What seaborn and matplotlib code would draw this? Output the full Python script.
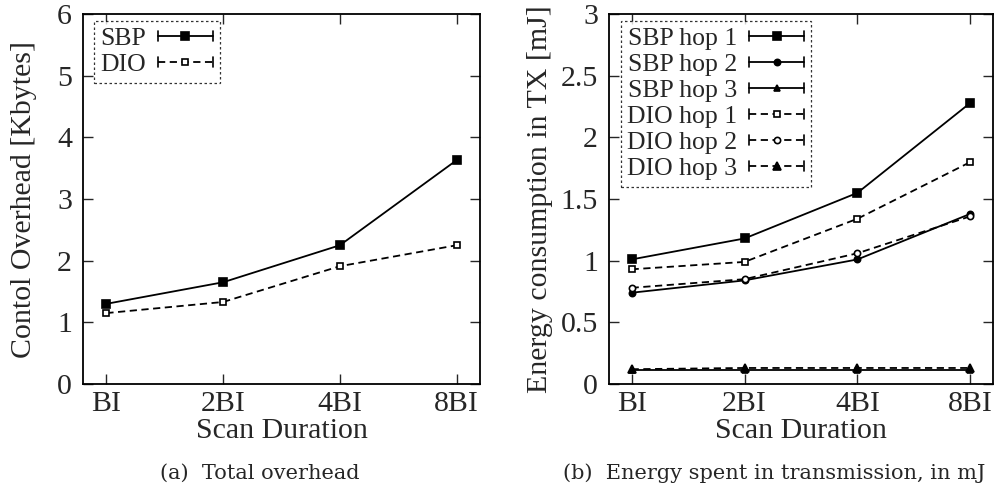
import numpy as np
import pandas as pd
import matplotlib
matplotlib.use("Agg")
import matplotlib.pyplot as plt
import seaborn as sns
from matplotlib.legend_handler import HandlerLine2D
from matplotlib.lines import Line2D

# data
durations = ["BI", "2BI", "4BI", "8BI"]

overhead_sbp = [1.30, 1.65, 2.25, 3.63]
overhead_dio = [1.15, 1.33, 1.91, 2.25]

energy_sbp_hop1 = [1.01, 1.18, 1.55, 2.28]
energy_sbp_hop2 = [0.74, 0.84, 1.01, 1.38]
energy_sbp_hop3 = [0.11, 0.11, 0.11, 0.11]
energy_dio_hop1 = [0.93, 0.99, 1.34, 1.80]
energy_dio_hop2 = [0.78, 0.85, 1.06, 1.36]
energy_dio_hop3 = [0.12, 0.13, 0.13, 0.13]

sns.set_style("ticks")
plt.rcParams['font.family'] = ['Liberation Serif', 'DejaVu Serif']

FS = 21.5
LEG_FS = 18.5


# gnuplot-like legend sample: line with small caps at both ends
class CapHandler(HandlerLine2D):
    def create_artists(self, legend, orig_handle, xdescent, ydescent,
                       width, height, fontsize, trans):
        artists = super().create_artists(legend, orig_handle, xdescent, ydescent,
                                         width, height, fontsize, trans)
        ymid = height / 2 - ydescent
        cap = height * 0.28
        for x in (-xdescent, width - xdescent):
            artists.append(Line2D([x, x], [ymid - cap, ymid + cap],
                                  color='black', lw=1.2, transform=trans))
        return artists


def draw_series(ax, values, label, marker, ms, filled, dashed):
    x = np.arange(len(durations))
    sns.lineplot(x=x, y=values, ax=ax, color='black', label=label,
                 marker=marker, markersize=ms, lw=1.3,
                 markerfacecolor='black' if filled else 'white',
                 markeredgecolor='black', markeredgewidth=1.2,
                 linestyle=(0, (4, 2.5)) if dashed else '-')


def style_axes(ax, ylim, yticks, ylabel, label_x):
    ax.set_xlim(-0.2, 3.2)
    ax.set_ylim(*ylim)
    ax.set_xticks(range(len(durations)))
    ax.set_xticklabels(durations)
    ax.set_yticks(yticks)
    ax.set_yticklabels([f"{t:g}" for t in yticks])
    ax.tick_params(direction='in', length=7, width=1, labelsize=FS,
                   top=True, right=True)
    ax.tick_params(axis='y', pad=8)
    ax.tick_params(axis='x', pad=5)
    for sp in ax.spines.values():
        sp.set_linewidth(1.3)
        sp.set_color('black')
    ax.set_xlabel("Scan Duration", fontsize=FS, labelpad=1)
    ax.set_ylabel(ylabel, fontsize=FS)
    ax.yaxis.set_label_coords(label_x, 0.5)


def make_legend(ax, bbox):
    leg = ax.legend(loc='upper left', bbox_to_anchor=bbox, markerfirst=False,
                    fontsize=LEG_FS, handlelength=2.15, handletextpad=0.45,
                    labelspacing=0.12, borderpad=0.25, borderaxespad=0.0,
                    fancybox=False, frameon=True,
                    handler_map={Line2D: CapHandler()})
    frame = leg.get_frame()
    frame.set_edgecolor('black')
    frame.set_linestyle((0, (2, 2)))
    frame.set_linewidth(0.9)
    return leg


fig = plt.figure(figsize=(9.97, 4.91), dpi=100)
ax1 = fig.add_axes([83 / 997, 107 / 491, 397 / 997, 370 / 491])
ax2 = fig.add_axes([609 / 997, 107 / 491, 384 / 997, 370 / 491])

# (a) total overhead
draw_series(ax1, overhead_sbp, "SBP", 's', 6, True, False)
draw_series(ax1, overhead_dio, "DIO", 's', 5, False, True)
style_axes(ax1, (0, 6), [0, 1, 2, 3, 4, 5, 6], "Contol Overhead [Kbytes]", -0.116)
make_legend(ax1, (0.028, 0.982))

# (b) energy in transmission
draw_series(ax2, energy_sbp_hop1, "SBP hop 1", 's', 6, True, False)
draw_series(ax2, energy_sbp_hop2, "SBP hop 2", 'o', 4.5, True, False)
draw_series(ax2, energy_sbp_hop3, "SBP hop 3", '^', 4, True, False)
draw_series(ax2, energy_dio_hop1, "DIO hop 1", 's', 5, False, True)
draw_series(ax2, energy_dio_hop2, "DIO hop 2", 'o', 4.5, False, True)
draw_series(ax2, energy_dio_hop3, "DIO hop 3", '^', 6, True, True)
style_axes(ax2, (0, 3), [0, 0.5, 1, 1.5, 2, 2.5, 3],
           "Energy consumption in TX [mJ]", -0.145)
make_legend(ax2, (0.031, 0.982))

# captions
fig.text(259.5 / 997, 1 - 473 / 491, "(a)  Total overhead", ha='center', va='center',
         fontsize=15, family=['DejaVu Serif'])
fig.text(774 / 997, 1 - 473 / 491, "(b)  Energy spent in transmission, in mJ",
         ha='center', va='center', fontsize=15, family=['DejaVu Serif'])

fig.savefig("out.png", dpi=100)
